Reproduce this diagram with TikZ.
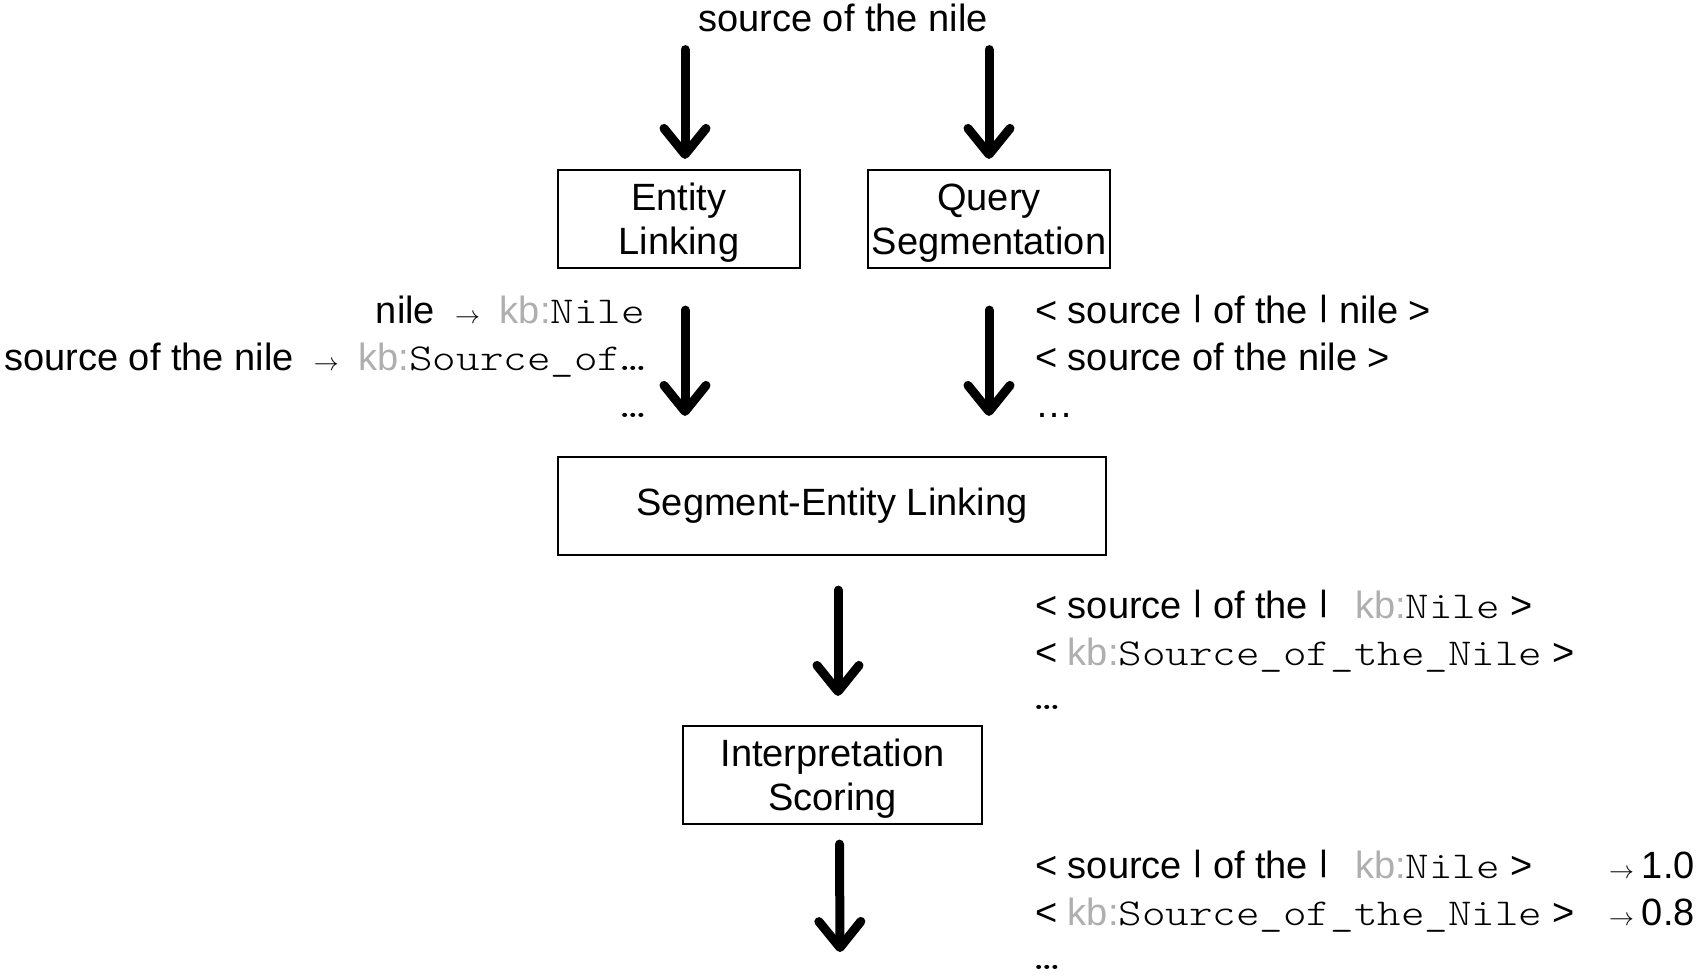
\documentclass[tikz,border=0pt]{standalone}
\usepackage{fontspec}
\setmainfont{Liberation Sans}
\newfontfamily\kbmono{lmmonolt10-regular.otf}
\usepackage{graphicx}
\usetikzlibrary{arrows.meta}
\definecolor{kbgray}{RGB}{175,175,175}
\newcommand{\kbp}{\textcolor{kbgray}{kb:}}
\newcommand{\mono}[1]{\scalebox{1.18}[1]{\kbmono #1}}
\newcommand{\smallto}{{\fontsize{25}{25}\selectfont$\rightarrow$}}
\newcommand{\tinydots}{\mono{…}}
\newcommand{\sep}{\raisebox{0.163em}{\scalebox{1}[0.777]{|}}}
\newcommand{\tallstrut}{\rule{0pt}{35pt}}
\tikzset{
  stage/.style={draw, line width=2.2pt, rectangle, align=center, inner sep=0pt,
    font=\fontsize{38}{44}\selectfont},
  lbl/.style={inner sep=0pt, font=\fontsize{38}{44}\selectfont},
  flow/.style={line width=9pt, line cap=round,
    -{Straight Barb[length=26pt, width=42pt, line cap=round, line join=round]}},
}
\begin{document}
\begin{tikzpicture}[x=1pt, y=-1pt]
\useasboundingbox (0,0) rectangle (1700,975);

% query and processing stages
\node[lbl, anchor=base] (src) at (843,31) {source of the nile};
\node[stage, minimum width=242pt, minimum height=98pt] (el) at (679,219) {\tallstrut Entity\\Linking};
\node[stage, minimum width=242pt, minimum height=98pt] (qs) at (989,219) {\tallstrut Query\\Segmentation};
\node[stage, minimum width=548pt, minimum height=98pt] (sel) at (832,506) {Segment-Entity Linking};
\node[stage, minimum width=299pt, minimum height=98pt] (is) at (832.5,775) {\tallstrut Interpretation\\Scoring};
\coordinate (out) at (840,952);

% flow arrows
\draw[flow] ([xshift=6pt,yshift=-18pt]src.south -| el.north) -- ([xshift=6pt,yshift=10pt]el.north);
\draw[flow] ([yshift=-18pt]src.south -| qs.north) -- ([yshift=10pt]qs.north);
\draw[flow] ([xshift=6pt,yshift=-41pt]el.south) -- ([xshift=6pt,yshift=40pt]el.south |- sel.north);
\draw[flow] ([yshift=-41pt]qs.south) -- ([yshift=40pt]qs.south |- sel.north);
\draw[flow] ([xshift=6pt,yshift=-34pt]sel.south) -- ([xshift=6pt,yshift=29pt]sel.south |- is.north);
\draw[flow] ([xshift=7pt,yshift=-19pt]is.south) -- (out);

% entity linking output
\node[lbl, anchor=base east] (l1) at (645,323) {nile\hspace{20pt}\smallto\hspace{20pt}\kbp\mono{Nile}};
\node[lbl, anchor=base east] (l2) at (645,370) {source of the nile\hspace{20pt}\smallto\hspace{20pt}\kbp\mono{Source\_of…}};
\node[lbl, anchor=base east] (l3) at (645,417) {\tinydots};

% segmentation output
\node[lbl, anchor=base west] (r1) at (1035,323) {< source \sep{} of the \sep{} nile >};
\node[lbl, anchor=base west] (r2) at (1035,370) {< source of the nile >};
\node[lbl, anchor=base west] (r3) at (1035,417) {…};

% segment-entity interpretations
\node[lbl, anchor=base west] (s1) at (1035,618) {< source \sep{} of the \sep\hspace{0.7em}\kbp\mono{Nile} >};
\node[lbl, anchor=base west] (s2) at (1035,665) {< \kbp\mono{Source\_of\_the\_Nile} >};
\node[lbl, anchor=base west] (s3) at (1035,709) {\tinydots};

% scored interpretations
\node[lbl, anchor=base west] (c1) at (1035,878) {< source \sep{} of the \sep\hspace{0.7em}\kbp\mono{Nile} >};
\node[lbl, anchor=base west] (c2) at (1035,925) {< \kbp\mono{Source\_of\_the\_Nile} >};
\node[lbl, anchor=base west] (c3) at (1035,969) {\tinydots};
\node[lbl, anchor=base east] (c1s) at (1695,878) {\smallto\hspace{8pt}1.0};
\node[lbl, anchor=base east] (c2s) at (1695,925) {\smallto\hspace{8pt}0.8};
\end{tikzpicture}
\end{document}
